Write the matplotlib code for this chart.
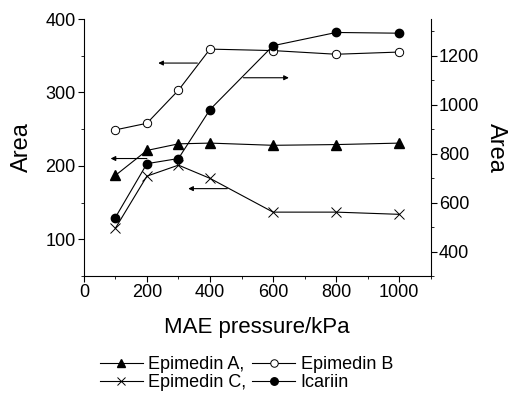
import matplotlib
matplotlib.use("Agg")
import matplotlib.pyplot as plt
from matplotlib.ticker import MultipleLocator

plt.rcParams["font.family"] = ["Liberation Sans", "DejaVu Sans"]

# MAE pressure (kPa)
pressure = [100, 200, 300, 400, 600, 800, 1000]

# peak areas, left axis
epimedin_a = [187, 221, 230, 231, 228, 229, 231]
epimedin_b = [249, 258, 303, 359, 357, 352, 355]
epimedin_c = [115, 186, 201, 183, 137, 137, 134]

# peak area, right axis
icariin = [539, 759, 780, 980, 1241, 1295, 1292]

labels = ["Epimedin A,", "Epimedin B", "Epimedin C,", "Icariin"]

fig = plt.figure(figsize=(5.08, 3.96), dpi=100)
ax = fig.add_axes([0.165, 0.303, 0.683, 0.649])
ax2 = ax.twinx()

line_kw = dict(color="black", lw=0.8)

(h_a,) = ax.plot(pressure, epimedin_a, marker="^", ms=6.5, mfc="black",
                 mec="black", **line_kw)
(h_b,) = ax.plot(pressure, epimedin_b, marker="o", ms=6, mfc="white",
                 mec="black", mew=0.7, **line_kw)
(h_c,) = ax.plot(pressure, epimedin_c, marker="x", ms=6.5, mec="black",
                 mew=0.7, **line_kw)
(h_i,) = ax2.plot(pressure, icariin, marker="o", ms=6, mfc="black",
                  mec="black", **line_kw)

# arrows pointing to the axis each curve belongs to
arrow_kw = dict(arrowstyle="-|>", color="black", lw=0.8, mutation_scale=7,
                shrinkA=0, shrinkB=0)
ax.annotate("", xy=(236, 340), xytext=(360, 340), arrowprops=arrow_kw)
ax.annotate("", xy=(85, 210), xytext=(200, 210), arrowprops=arrow_kw)
ax.annotate("", xy=(331, 169), xytext=(455, 169), arrowprops=arrow_kw)
ax2.annotate("", xy=(650, 1110), xytext=(506, 1110), arrowprops=arrow_kw)

ax.set_xlim(0, 1100)
ax.set_ylim(50, 400)
ax2.set_ylim(300, 1350)

ax.xaxis.set_major_locator(MultipleLocator(200))
ax.xaxis.set_minor_locator(MultipleLocator(100))
ax.yaxis.set_minor_locator(MultipleLocator(50))
ax2.yaxis.set_minor_locator(MultipleLocator(100))
ax.set_yticks([100, 200, 300, 400])
ax2.set_yticks([400, 600, 800, 1000, 1200])

for a in (ax, ax2):
    a.spines["top"].set_visible(False)
    for s in a.spines.values():
        s.set_linewidth(0.8)
    a.tick_params(which="major", direction="out", length=4, width=0.8,
                  labelsize=13, pad=2)
    a.tick_params(which="minor", direction="out", length=2.5, width=0.6)
ax.spines["right"].set_visible(False)
ax2.spines["left"].set_visible(False)
ax2.spines["bottom"].set_visible(False)

ax.set_xlabel("MAE pressure/kPa", fontsize=16, labelpad=11)
ax.set_ylabel("Area", fontsize=17, labelpad=9)
ax2.set_ylabel("Area", fontsize=17, rotation=270, labelpad=20)

fig.legend([h_a, h_c, h_b, h_i], [labels[0], labels[2], labels[1], labels[3]],
           ncol=2, loc="center", bbox_to_anchor=(0.485, 0.057),
           frameon=False, fontsize=13, handlelength=2.4,
           handletextpad=0.3, columnspacing=0.3, labelspacing=0.05,
           borderpad=0.2, markerscale=0.9)

fig.savefig("out.png", dpi=100)
